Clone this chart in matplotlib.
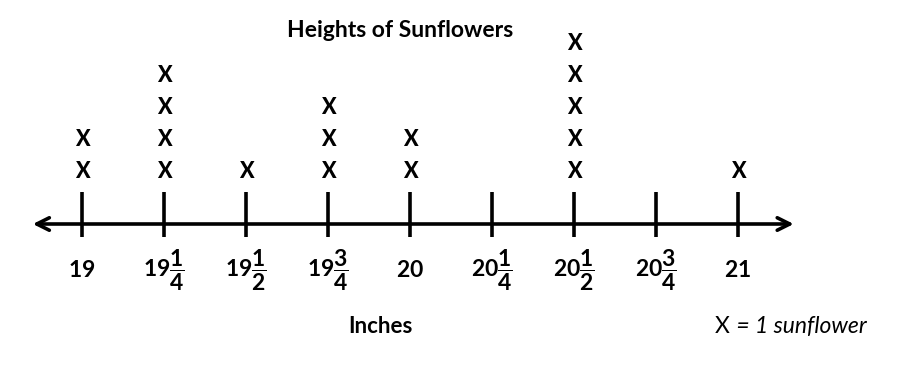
import matplotlib.pyplot as plt

# data
heights = [19, 19.25, 19.5, 19.75, 20, 20.25, 20.5, 20.75, 21]
counts = [2, 4, 1, 3, 2, 0, 5, 0, 1]
tick_labels = [r'$19$', r'$19\dfrac{1}{4}$', r'$19\dfrac{1}{2}$',
               r'$19\dfrac{3}{4}$', r'$20$', r'$20\dfrac{1}{4}$',
               r'$20\dfrac{1}{2}$', r'$20\dfrac{3}{4}$', r'$21$']

plt.rcParams['font.family'] = 'Lato'
plt.rcParams['mathtext.fontset'] = 'custom'
plt.rcParams['mathtext.rm'] = 'Lato:bold'
plt.rcParams['mathtext.it'] = 'Lato:bold'
plt.rcParams['mathtext.bf'] = 'Lato:bold'

fig = plt.figure(figsize=(9.12, 3.7), dpi=100)
ax = fig.add_axes([0, 0, 1, 1])
ax.set_xlim(18.75, 21.5305)
ax.set_ylim(-4.5625, 7.0)
ax.axis('off')

# number line with arrows on both ends
ax.annotate('', xy=(18.85, 0), xytext=(21.17, 0),
            arrowprops=dict(arrowstyle='<->,head_length=0.9,head_width=0.45',
                            lw=2.6, color='black', shrinkA=0, shrinkB=0))

# tick marks and labels
for h, lab in zip(heights, tick_labels):
    ax.plot([h, h], [-0.4, 1.0], color='black', lw=2.6, solid_capstyle='butt')
    ax.text(h, -1.45, lab, ha='center', va='center', fontsize=16.5,
            fontweight='bold')

# one X per sunflower
for h, c in zip(heights, counts):
    for k in range(c):
        ax.text(h, k + 1.625, 'X', ha='center', va='center', fontsize=15.5,
                fontweight='black')

ax.text(19.97, 6.06, 'Heights of Sunflowers', ha='center', va='center',
        fontsize=16.5, fontweight='bold')
ax.text(19.91, -3.2, 'Inches', ha='center', va='center', fontsize=16,
        fontweight='bold')
ax.text(20.93, -3.2, 'X', ha='left', va='center', fontsize=16.5)
ax.text(20.978, -3.2, ' = 1 sunflower', ha='left', va='center',
        fontsize=16.5, style='italic')

fig.savefig('out.png', dpi=100)
